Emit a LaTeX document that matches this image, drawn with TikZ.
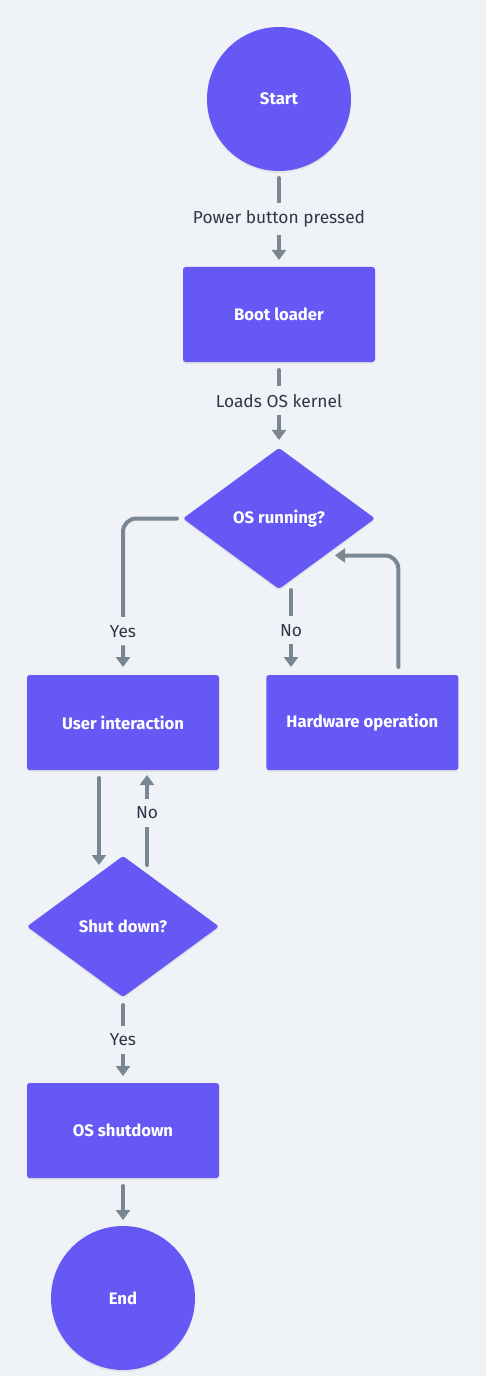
\documentclass[tikz,border=0pt]{standalone}
\usepackage{fontspec}
\setmainfont{Fira Sans}
\usetikzlibrary{arrows.meta,positioning,calc,shapes.geometric,shadows}
\definecolor{fondo}{RGB}{239, 243, 247}
\definecolor{violeta}{RGB}{101, 88, 245}
\definecolor{linea}{RGB}{122, 134, 146}
\definecolor{rotulo}{RGB}{45, 55, 72}
\tikzset{
  term/.style={circle,fill=violeta,text=white,font=\fontsize{12.5}{15}\selectfont\bfseries,
               minimum size=108pt,inner sep=0pt,outer sep=0pt,
               drop shadow={opacity=0.12,shadow xshift=0pt,shadow yshift=-1.5pt}},
  proc/.style={rectangle,rounded corners=2pt,fill=violeta,text=white,
               font=\fontsize{12.5}{15}\selectfont\bfseries,outer sep=0pt,
               minimum width=144pt,minimum height=71.25pt,
               drop shadow={opacity=0.12,shadow xshift=0pt,shadow yshift=-1.5pt}},
  decision/.style={diamond,rounded corners=2pt,fill=violeta,text=white,
                   font=\fontsize{12.5}{15}\selectfont\bfseries,
                   minimum width=144pt,minimum height=105.75pt,inner sep=0pt,outer sep=0pt,
                   drop shadow={opacity=0.12,shadow xshift=0pt,shadow yshift=-1.5pt}},
  flow/.style={-{Triangle[width=10.5pt,length=7.5pt]},line width=3pt,linea,line cap=round},
  lbl/.style={fill=fondo,text=rotulo,font=\fontsize{13}{15}\selectfont,
              inner xsep=2pt,inner ysep=6pt},
}
\begin{document}
\begin{tikzpicture}[x=0.75pt,y=-0.75pt]
    \fill[fondo] (0,0) rectangle (486,1376);
    \node[term] (start) at (279,99) {Start};
    \node[proc,below=72pt of start] (boot) {Boot loader};
    \node[decision,below=64.5pt of boot] (osrun) {OS running?};
    \node[proc,below=64.5pt of osrun,xshift=-117pt] (user) {User interaction};
    \node[proc,right=35.5pt of user] (hw) {Hardware operation};
    \node[decision,below=64.5pt of user] (shut) {Shut down?};
    \node[proc,below=64.5pt of shut] (osdown) {OS shutdown};
    \node[term,below=36pt of osdown] (end) {End};
    % free ends next to the diamonds
    \coordinate (back) at ($(osrun.center)+(56,37)$);
    \coordinate (intoshut) at ($(shut.north)+(-24,9)$);
    \coordinate (outshut) at ($(shut.north)+(24,9)$);
    \draw[flow,shorten <=5.25pt,shorten >=5.25pt] (start) -- node[lbl] {Power button pressed} (boot);
    \draw[flow,shorten <=6pt,shorten >=6pt] (boot) -- node[lbl,pos=0.45] {Loads OS kernel} (osrun);
    \draw[flow,rounded corners=10pt,shorten <=4.5pt,shorten >=6pt] (osrun.west) -| node[lbl,pos=0.86] {Yes} (user.north);
    \draw[flow,shorten <=0.75pt,shorten >=6pt] ([xshift=9pt]osrun.south) -- node[lbl,pos=0.48] {No} ([xshift=9pt]osrun.south |- hw.north);
    \draw[flow,rounded corners=10pt,shorten <=6pt] ([xshift=27pt]hw.north) |- (back);
    \draw[flow,shorten <=6pt] ([xshift=-18pt]user.south) -- (intoshut);
    \draw[flow,shorten >=3.75pt] (outshut) -- node[lbl,pos=0.55] {No} (outshut |- user.south);
    \draw[flow,shorten <=6pt,shorten >=5.25pt] (shut) -- node[lbl] {Yes} (osdown);
    \draw[flow,shorten <=6pt,shorten >=4.5pt] (osdown) -- (end);
\end{tikzpicture}
\end{document}
